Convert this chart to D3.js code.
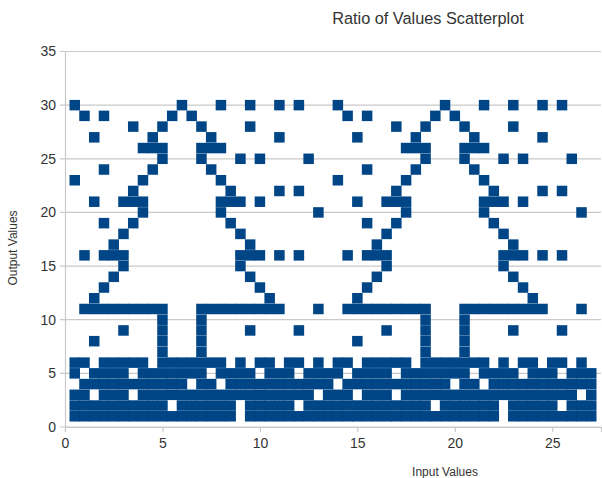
<!DOCTYPE html>
<html>
<head>
<meta charset="utf-8">
<script src="https://cdn.jsdelivr.net/npm/d3@7"></script>
<style>
  html, body { margin: 0; padding: 0; background: #fff; }
  svg { display: block; }
  text { font-family: "Liberation Sans", Arial, sans-serif; fill: #333; }
</style>
</head>
<body>
<div id="chart"></div>
<script>
var title = "Ratio of Values Scatterplot";
var xLabel = "Input Values";
var yLabel = "Output Values";
var xTicks = [0, 5, 10, 15, 20, 25];
var yTicks = [0, 5, 10, 15, 20, 25, 30, 35];

// input values found at each output value
var out30 = [0.5, 6, 8, 9.5, 11, 12, 14, 19.5, 21.5, 23, 24.5, 25.5];
var out29 = [1, 2, 5.5, 6.5, 14.5, 15.5, 19, 20];
var out28 = [3.5, 5, 7, 9.5, 17, 18.5, 20.5, 23];
var out27 = [1.5, 4.5, 7.5, 11, 15, 18, 21, 24.5];
var out26 = [4, 4.5, 5, 7, 7.5, 8, 17.5, 18, 18.5, 20.5, 21, 21.5];
var out25 = [5, 7, 9, 10, 12.5, 18.5, 20.5, 22.5, 23.5, 26];
var out24 = [2, 4.5, 7.5, 15.5, 18, 21];
var out23 = [0.5, 4, 8, 14, 17.5, 21.5];
var out22 = [3.5, 8.5, 11, 12, 17, 22, 24.5, 25.5];
var out21 = [1.5, 3, 3.5, 4, 8, 8.5, 9, 10, 15, 16.5, 17, 17.5, 21.5, 22, 22.5, 23.5];
var out20 = [4, 8, 13, 17.5, 21.5, 26.5];
var out19 = [2, 3.5, 8.5, 15.5, 17, 22];
var out18 = [3, 9, 16.5, 22.5];
var out17 = [2.5, 9.5, 16, 23];
var out16 = [1, 2, 2.5, 3, 9, 9.5, 10, 11, 12, 14.5, 15.5, 16, 16.5, 22.5, 23, 23.5, 24.5, 25.5];
var out15 = [3, 9, 16.5, 22.5];
var out14 = [2.5, 9.5, 16, 23];
var out13 = [2, 10, 15.5, 23.5];
var out12 = [1.5, 10.5, 15, 24];
var out11 = [1, 1.5, 2, 2.5, 3, 3.5, 4, 4.5, 5, 7, 7.5, 8, 8.5, 9, 9.5, 10, 10.5, 11, 13,
  14.5, 15, 15.5, 16, 16.5, 17, 17.5, 18, 18.5, 20.5, 21, 21.5, 22, 22.5, 23, 23.5, 24, 24.5, 26.5];
var out10 = [5, 7, 18.5, 20.5];
var out9 = [3, 5, 7, 9.5, 12, 16.5, 18.5, 20.5, 23, 25.5];
var out8 = [1.5, 5, 7, 15, 18.5, 20.5];
var out7 = [5, 7, 18.5, 20.5];
var out6 = [0.5, 1, 2, 2.5, 3, 3.5, 4, 5, 5.5, 6, 6.5, 7, 7.5, 8, 9, 10, 10.5, 11.5, 12, 13, 14, 14.5,
  15.5, 16, 16.5, 17, 17.5, 18.5, 19, 19.5, 20, 20.5, 21, 21.5, 22.5, 23.5, 24, 25, 25.5, 26.5];
var out5 = [0.5, 1.5, 2, 2.5, 3, 4, 4.5, 5, 5.5, 6, 6.5, 7, 8, 8.5, 9, 9.5, 10.5, 11, 11.5, 12.5, 13, 13.5, 14,
  15, 15.5, 16, 16.5, 17.5, 18, 18.5, 19, 19.5, 20, 20.5, 21.5, 22, 22.5, 23, 24, 24.5, 25, 26, 26.5, 27];
var out4 = [1, 1.5, 2, 2.5, 3, 3.5, 4, 4.5, 5, 5.5, 6, 7, 7.5, 8.5, 9, 9.5, 10, 10.5, 11, 11.5, 12, 12.5, 13, 13.5,
  14.5, 15, 15.5, 16, 16.5, 17, 17.5, 18, 18.5, 19, 19.5, 20.5, 21, 22, 22.5, 23, 23.5, 24, 24.5, 25, 25.5, 26, 26.5, 27];
var out3 = [0.5, 1, 2, 2.5, 3, 4, 4.5, 5, 5.5, 6, 6.5, 7, 7.5, 8, 8.5, 9, 9.5, 10, 10.5, 11, 11.5, 12, 12.5, 13.5, 14, 14.5,
  15.5, 16, 16.5, 17.5, 18, 18.5, 19, 19.5, 20, 20.5, 21, 21.5, 22, 22.5, 23, 23.5, 24, 24.5, 25, 25.5, 26, 27];
var out2 = [0.5, 1, 1.5, 2, 2.5, 3, 3.5, 4, 4.5, 5, 6, 6.5, 7, 7.5, 8, 8.5, 9.5, 10, 10.5, 11, 11.5, 12.5, 13, 13.5, 14, 14.5,
  15, 15.5, 16, 16.5, 17, 17.5, 18, 18.5, 19.5, 20, 20.5, 21, 21.5, 22, 23, 23.5, 24, 24.5, 25, 26, 26.5, 27];
var out1 = [0.5, 1, 1.5, 2, 2.5, 3, 3.5, 4, 4.5, 5, 5.5, 6, 6.5, 7, 7.5, 8, 8.5, 9.5, 10, 10.5, 11, 11.5, 12, 12.5, 13, 13.5, 14, 14.5,
  15, 15.5, 16, 16.5, 17, 17.5, 18, 18.5, 19, 19.5, 20, 20.5, 21, 21.5, 22, 23, 23.5, 24, 24.5, 25, 25.5, 26, 26.5, 27];

var rows = [out1, out2, out3, out4, out5, out6, out7, out8, out9, out10, out11, out12, out13, out14, out15,
  out16, out17, out18, out19, out20, out21, out22, out23, out24, out25, out26, out27, out28, out29, out30];

var points = [];
rows.forEach(function(inputs, i) {
  inputs.forEach(function(v) { points.push({x: v, y: i + 1}); });
});

var width = 602;
var height = 478;
var markerSize = 10.5;

var svg = d3.select("#chart").append("svg")
    .attr("width", width)
    .attr("height", height);

var x = d3.scaleLinear().domain([0, 27.5]).range([65, 601]);
var y = d3.scaleLinear().domain([0, 35]).range([427, 51.5]);

// grid
svg.append("g").selectAll("line")
    .data(yTicks)
    .join("line")
    .attr("x1", 60)
    .attr("x2", 601)
    .attr("y1", d => y(d))
    .attr("y2", d => y(d))
    .attr("stroke", "#c9c9c9")
    .attr("stroke-width", 1.2);

// axes
var yAxis = d3.axisLeft(y).tickValues(yTicks).tickSize(0).tickPadding(9);
var xAxis = d3.axisBottom(x).tickValues(xTicks).tickSize(5).tickPadding(6);

var yg = svg.append("g").attr("transform", "translate(65,0)").call(yAxis);
var xg = svg.append("g").attr("transform", "translate(0,427)").call(xAxis);

svg.selectAll(".domain").attr("stroke", "#c9c9c9").attr("stroke-width", 1.2);
svg.selectAll(".tick line").attr("stroke", "#c9c9c9").attr("stroke-width", 1.2);
yg.selectAll("text").style("font-size", "14px");
xg.selectAll("text").style("font-size", "14px");

// markers
svg.append("g").selectAll("rect")
    .data(points)
    .join("rect")
    .attr("x", d => x(d.x) - markerSize / 2)
    .attr("y", d => y(d.y) - markerSize / 2)
    .attr("width", markerSize)
    .attr("height", markerSize)
    .attr("fill", "#004586");

// titles
svg.append("text")
    .attr("x", 428)
    .attr("y", 24)
    .attr("text-anchor", "middle")
    .style("font-size", "16.3px")
    .text(title);

svg.append("text")
    .attr("x", 445)
    .attr("y", 476)
    .attr("text-anchor", "middle")
    .style("font-size", "12px")
    .text(xLabel);

svg.append("text")
    .attr("transform", "translate(17,248) rotate(-90)")
    .attr("text-anchor", "middle")
    .style("font-size", "12px")
    .text(yLabel);
</script>
</body>
</html>
